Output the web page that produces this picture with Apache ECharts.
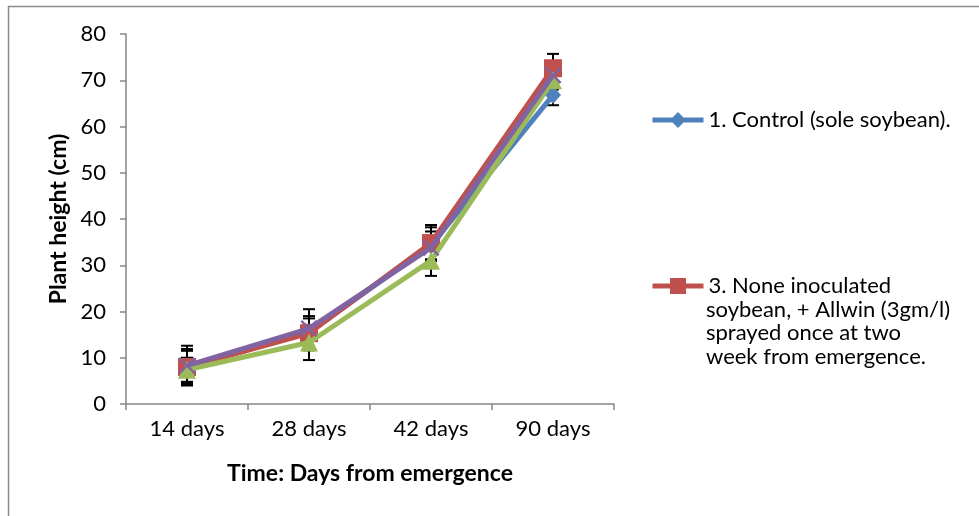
<!DOCTYPE html>
<html><head><meta charset="utf-8">
<script src="https://cdn.jsdelivr.net/npm/echarts@6/dist/echarts.min.js"></script>
<style>html,body{margin:0;padding:0;background:#fff}#c{width:979px;height:516px}</style>
</head><body><div id="c"></div>
<script>
var categories = ['14 days', '28 days', '42 days', '90 days'];
var seriesNames = ['1. Control (sole soybean).', '3. None inoculated\nsoybean, + Allwin (3gm/l)\nsprayed once at two\nweek from emergence.', 'Series 3', 'Series 4'];
var controlVals = [8.0, 15.5, 34.3, 66.8];
var controlErr = [3.5, 3.0, 3.0, 2.2];
var allwinVals = [8.0, 15.3, 34.8, 72.6];
var allwinErr = [3.9, 3.7, 3.9, 3.1];
var greenVals = [7.4, 13.3, 31.0, 70.0];
var greenErr = [2.6, 3.8, 3.3, 2.0];
var purpleVals = [8.3, 16.3, 33.8, 71.1];
var purpleErr = [4.3, 4.2, 4.4, 2.5];
var yTicks = [0, 10, 20, 30, 40, 50, 60, 70, 80];

var colors = ['#4F81BD', '#C0504D', '#9BBB59', '#8064A2'];
var xPath = 'path://M2,0 L10,8 L18,0 L20,2 L12,10 L20,18 L18,20 L10,12 L2,20 L0,18 L8,10 L0,2 Z';
var symbols = ['diamond', 'rect', 'triangle', xPath];
var symbolSizes = [[16, 18], [18, 18], [18, 18], [17, 17]];
var vals = [controlVals, allwinVals, greenVals, purpleVals];
var errs = [controlErr, allwinErr, greenErr, purpleErr];

var FONT = 'Lato, "Open Sans", sans-serif';
var FS = 22;
var FT = 23;
var chart = echarts.init(document.getElementById('c'));

var series = [];
vals.forEach(function (v, si) {
  var d = v.map(function (y, i) { return [i, y - errs[si][i], y + errs[si][i]]; });
  series.push({
    type: 'custom', name: 'err' + si, z: 1, silent: true,
    renderItem: function (params, api) {
      var x = api.coord([api.value(0), api.value(1)])[0];
      var lo = api.coord([api.value(0), api.value(1)])[1];
      var hi = api.coord([api.value(0), api.value(2)])[1];
      var w = 6;
      var st = { stroke: '#000', lineWidth: 2 };
      return { type: 'group', children: [
        { type: 'line', shape: { x1: x, y1: lo, x2: x, y2: hi }, style: st },
        { type: 'line', shape: { x1: x - w, y1: lo, x2: x + w, y2: lo }, style: st },
        { type: 'line', shape: { x1: x - w, y1: hi, x2: x + w, y2: hi }, style: st }
      ]};
    },
    data: d
  });
});
vals.forEach(function (v, si) {
  series.push({
    type: 'line', name: seriesNames[si], data: v, z: 2 + si,
    symbol: symbols[si], symbolSize: symbolSizes[si], showSymbol: true,
    lineStyle: { color: colors[si], width: 5 },
    itemStyle: { color: colors[si], borderWidth: 0 },
    emphasis: { disabled: true }, animation: false
  });
});

var restLines = seriesNames[1].split('\n').slice(1).join('\n');

var legendBase = {
  left: 650, padding: 0, itemWidth: 51, itemHeight: 20, itemGap: 0, selectedMode: false,
  lineStyle: { width: 5 },
  formatter: function (n) { return n.split('\n')[0]; },
  textStyle: { fontFamily: FONT, fontSize: FS, color: '#000' }
};

var option = {
  animation: false,
  grid: { left: 126, right: 365, top: 34, bottom: 112 },
  graphic: [
    { type: 'rect', shape: { x: 8.5, y: 6.5, width: 1000, height: 600 }, style: { fill: 'none', stroke: '#8a8a8a', lineWidth: 1.5 }, z: -1 },
    { type: 'text', left: 706, top: 298, style: { text: restLines, font: FS + 'px ' + FONT, fill: '#000', lineHeight: 23.5 } }
  ],
  xAxis: {
    type: 'category', data: categories, boundaryGap: true,
    name: 'Time: Days from emergence', nameLocation: 'middle', nameGap: 58,
    nameTextStyle: { fontFamily: FONT, fontSize: FT, fontWeight: 'bold', color: '#000' },
    axisLine: { lineStyle: { color: '#868686', width: 1.5 } },
    axisTick: { show: true, length: 6, alignWithLabel: false, lineStyle: { color: '#868686', width: 1.5 } },
    axisLabel: { fontFamily: FONT, fontSize: FS, color: '#000', margin: 14 }
  },
  yAxis: {
    type: 'value', min: 0, max: 80, interval: 10,
    name: 'Plant height (cm)', nameLocation: 'middle', nameGap: 56,
    nameTextStyle: { fontFamily: FONT, fontSize: FT, fontWeight: 'bold', color: '#000' },
    axisLine: { show: true, lineStyle: { color: '#868686', width: 1.5 } },
    axisTick: { show: true, length: 6, lineStyle: { color: '#868686', width: 1.5 } },
    splitLine: { show: false },
    axisLabel: { fontFamily: FONT, fontSize: FS, color: '#000', margin: 20,
      formatter: function (v) { return yTicks.indexOf(v) >= 0 ? String(v) : ''; } }
  },
  legend: [
    Object.assign({}, legendBase, { data: [seriesNames[0]], top: 109 }),
    Object.assign({}, legendBase, { data: [seriesNames[1]], top: 275 })
  ],
  series: series
};
chart.setOption(option);
</script></body></html>
